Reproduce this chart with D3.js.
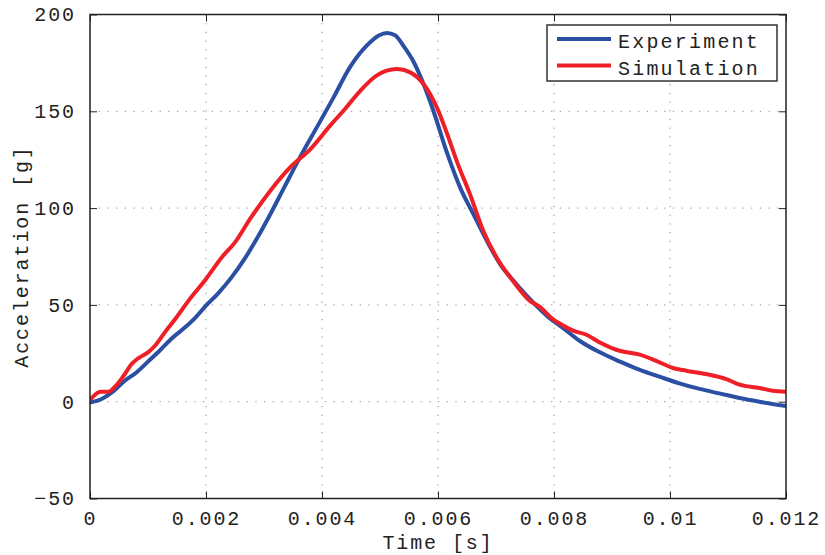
<!DOCTYPE html>
<html>
<head>
<meta charset="utf-8">
<script src="https://cdn.jsdelivr.net/npm/d3@7"></script>
<style>
  html, body { margin: 0; padding: 0; background: #fff; }
  svg { display: block; }
  text { font-family: "Liberation Mono", "DejaVu Sans Mono", monospace; fill: #222; }
</style>
</head>
<body>
<svg id="chart" width="825" height="555"></svg>
<script>
// ---- Data ----
const expTime = [0, 0.0002, 0.0004, 0.0006, 0.0008, 0.001, 0.0012, 0.0014, 0.00164, 0.00181, 0.002, 0.00221, 0.00244, 0.00267, 0.0029, 0.00312, 0.00334, 0.00362, 0.00391, 0.0042, 0.00448, 0.00477, 0.00498, 0.00512, 0.00526, 0.0054, 0.00557, 0.00575, 0.00592, 0.00615, 0.00638, 0.00661, 0.00684, 0.00707, 0.00735, 0.00764, 0.00798, 0.0081, 0.00844, 0.00879, 0.00913, 0.00948, 0.00982, 0.01016, 0.01051, 0.01085, 0.0112, 0.01154, 0.012];
const expAccel = [-0.4, 1.4, 5.3, 10.8, 15.1, 20.7, 26.3, 32.4, 38.4, 43.2, 49.6, 56, 64.2, 74, 85.5, 97.5, 110.2, 126.2, 141.7, 157.2, 172.7, 183.9, 189.2, 190.5, 189.3, 184, 176.1, 164.1, 150.3, 129, 110.7, 96.9, 83.2, 71.1, 60.8, 51.3, 41.8, 39.3, 31.5, 25.5, 20.8, 16.4, 12.9, 9.5, 6.6, 4.3, 1.9, 0, -2.2];

const simTime = [0, 0.00018, 0.00032, 0.00043, 0.00058, 0.00072, 0.00083, 0.001, 0.00112, 0.00129, 0.00147, 0.0017, 0.002, 0.00227, 0.0025, 0.00276, 0.00311, 0.00345, 0.0038, 0.00414, 0.00437, 0.00466, 0.00494, 0.00529, 0.00552, 0.00575, 0.00598, 0.0062, 0.00632, 0.00655, 0.00678, 0.00701, 0.00729, 0.00758, 0.00775, 0.00798, 0.0081, 0.00833, 0.00856, 0.00879, 0.00913, 0.00948, 0.00982, 0.01005, 0.01028, 0.01062, 0.01097, 0.0112, 0.01154, 0.01177, 0.012];
const simAccel = [0.9, 5.2, 5.2, 7.7, 13.4, 19.5, 22.4, 25.5, 28.9, 35.8, 42.7, 52.2, 63.4, 74.5, 82.3, 94.4, 109, 121, 130.5, 142.6, 150.3, 160.6, 168.4, 171.8, 170.1, 164.1, 152, 134.8, 124.5, 107.3, 88.3, 74.5, 62.5, 52.2, 49.1, 42.7, 40.4, 36.7, 34.6, 30.6, 26.3, 24.3, 20.3, 17.4, 16, 14.3, 11.7, 8.8, 7.1, 5.7, 5.2];

const xTicks = [0, 0.002, 0.004, 0.006, 0.008, 0.01, 0.012];
const xTickLabels = ["0", "0.002", "0.004", "0.006", "0.008", "0.01", "0.012"];
const yTicks = [-50, 0, 50, 100, 150, 200];
const yTickLabels = ["\u221250", "0", "50", "100", "150", "200"];
const seriesNames = ["Experiment", "Simulation"];
const seriesColors = ["#2b4fa3", "#ee1f26"];

// ---- Layout ----
const svg = d3.select("#chart");
const L = 90, R = 786, T = 14.5, B = 498.5;

const x = d3.scaleLinear().domain([0, 0.012]).range([L, R]);
const y = d3.scaleLinear().domain([-50, 200]).range([B, T]);

// grid
const grid = svg.append("g").attr("stroke", "#8a8a8a").attr("stroke-width", 1)
  .attr("stroke-dasharray", "1.2,7.5");
grid.selectAll("line.gx").data(xTicks.slice(1, -1)).enter().append("line")
  .attr("x1", d => x(d)).attr("x2", d => x(d)).attr("y1", T).attr("y2", B);
grid.selectAll("line.gy").data(yTicks.slice(1, -1)).enter().append("line")
  .attr("x1", L).attr("x2", R).attr("y1", d => y(d)).attr("y2", d => y(d));

// axes with inward ticks (bottom/left labeled, top/right unlabeled)
const tickLen = 7;
const fmtX = d => xTickLabels[xTicks.indexOf(d)];
const fmtY = d => yTickLabels[yTicks.indexOf(d)];

function styleAxis(g) {
  g.select(".domain").remove();
  g.selectAll(".tick line").attr("stroke", "#222").attr("stroke-width", 1);
  g.selectAll(".tick text").style("font-family", '"Liberation Mono", monospace')
    .style("font-size", "20px").style("letter-spacing", "1.9px").attr("fill", "#222");
}

const xAxisB = svg.append("g").attr("transform", `translate(0,${B})`)
  .call(d3.axisBottom(x).tickValues(xTicks).tickFormat(fmtX).tickSizeInner(-tickLen).tickSizeOuter(0).tickPadding(14));
styleAxis(xAxisB);
xAxisB.selectAll(".tick text").attr("dy", "0.6em");

const xAxisT = svg.append("g").attr("transform", `translate(0,${T})`)
  .call(d3.axisTop(x).tickValues(xTicks).tickFormat("").tickSizeInner(-tickLen).tickSizeOuter(0));
styleAxis(xAxisT);

const yAxisL = svg.append("g").attr("transform", `translate(${L},0)`)
  .call(d3.axisLeft(y).tickValues(yTicks).tickFormat(fmtY).tickSizeInner(-tickLen).tickSizeOuter(0).tickPadding(14));
styleAxis(yAxisL);

const yAxisR = svg.append("g").attr("transform", `translate(${R},0)`)
  .call(d3.axisRight(y).tickValues(yTicks).tickFormat("").tickSizeInner(-tickLen).tickSizeOuter(0));
styleAxis(yAxisR);

// clip
svg.append("clipPath").attr("id", "clip").append("rect")
  .attr("x", L).attr("y", T).attr("width", R - L).attr("height", B - T);

const line = d3.line().x(d => x(d[0])).y(d => y(d[1])).curve(d3.curveMonotoneX);
const series = [
  d3.zip(expTime, expAccel),
  d3.zip(simTime, simAccel)
];

const lines = svg.append("g").attr("clip-path", "url(#clip)");
series.forEach((s, i) => {
  lines.append("path").datum(s).attr("d", line)
    .attr("fill", "none").attr("stroke", seriesColors[i]).attr("stroke-width", 4)
    .attr("stroke-linejoin", "round");
});

// box
svg.append("rect").attr("x", L).attr("y", T).attr("width", R - L).attr("height", B - T)
  .attr("fill", "none").attr("stroke", "#222").attr("stroke-width", 1.5);

// axis labels
svg.append("text").attr("x", (L + R) / 2).attr("y", 549).attr("text-anchor", "middle")
  .style("font-size", "20px").style("letter-spacing", "1.9px").text("Time [s]");
svg.append("text").attr("transform", `translate(28,${(T + B) / 2}) rotate(-90)`)
  .attr("text-anchor", "middle")
  .style("font-size", "20px").style("letter-spacing", "1.9px").text("Acceleration [g]");

// legend
const lg = svg.append("g");
lg.append("rect").attr("x", 547).attr("y", 25).attr("width", 230).attr("height", 56)
  .attr("fill", "#fff").attr("stroke", "#333").attr("stroke-width", 1.5);
seriesNames.forEach((name, i) => {
  const yy = 39 + i * 26.5;
  lg.append("line").attr("x1", 557).attr("x2", 611).attr("y1", yy).attr("y2", yy)
    .attr("stroke", seriesColors[i]).attr("stroke-width", 4);
  lg.append("text").attr("x", 618).attr("y", yy + 9)
    .style("font-size", "20px").style("letter-spacing", "2.2px").text(name);
});
</script>
</body>
</html>
